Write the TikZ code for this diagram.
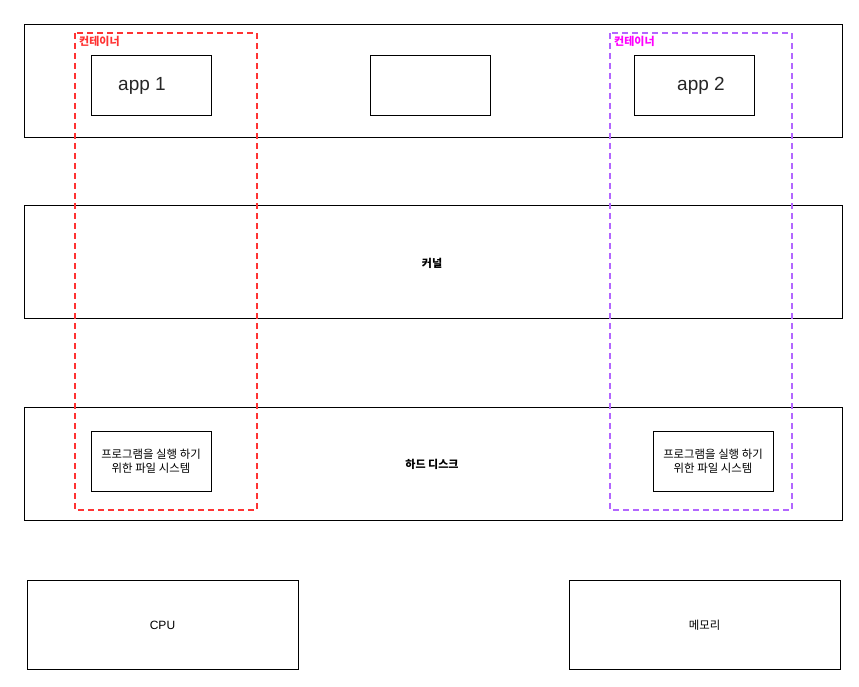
\documentclass[tikz,border=0pt]{standalone}
\usepackage{fontspec}
\setmainfont{Liberation Sans}
\newfontfamily\kr{Noto Sans CJK KR}
\begin{document}
\begin{tikzpicture}[x=1pt,y=-1pt,
  box/.style={draw=black,line width=0.9pt,inner sep=0pt},
  cont/.style={line width=1.6pt,dash pattern=on 6pt off 4pt},
  lbl/.style={font=\kr\fontsize{11.4}{13.5}\selectfont},
  blbl/.style={font=\kr\bfseries\fontsize{11}{13}\selectfont},
  clbl/.style={anchor=north west,inner sep=0pt,font=\kr\bfseries\fontsize{11}{12}\selectfont},
  app/.style={font=\fontsize{19}{22}\selectfont,text=black!85}]
\useasboundingbox (0,0) rectangle (859,687);
\definecolor{redc}{HTML}{FF3333}
\definecolor{purc}{HTML}{B266FF}
\definecolor{magc}{HTML}{FF00FF}
% layers
\draw[box] (24,24) rectangle (842,137);
\node[box,minimum width=120pt,minimum height=60pt] (app1) at (151,85) {};
\node[app] (app1t) at (142,86) {app 1};
\node[box,minimum width=120pt,minimum height=60pt] (mid) at (430,85) {};
\node[box,minimum width=120pt,minimum height=60pt] (app2) at (694,85) {};
\node[app] (app2t) at (701,86) {app 2};
\node[box,minimum width=818pt,minimum height=113pt] (kernel) at (433,261.5) {};
\node[blbl] (kernelt) at (432,263) {커널};
\node[box,minimum width=818pt,minimum height=113pt] (disk) at (433,463.5) {};
\node[blbl] (diskt) at (432,464) {하드 디스크};
\node[box,minimum width=120pt,minimum height=60pt,align=center,lbl] (fs1) at (151,461) {프로그램을 실행 하기\\위한 파일 시스템};
\node[box,minimum width=120pt,minimum height=60pt,align=center,lbl] (fs2) at (713,461) {프로그램을 실행 하기\\위한 파일 시스템};
\node[box,minimum width=271pt,minimum height=89pt] (cpu) at (162.5,624.5) {};
\node[font=\fontsize{12}{14}\selectfont] (cput) at (162.5,625.5) {CPU};
\node[box,minimum width=271pt,minimum height=89pt] (mem) at (704.5,624.5) {};
\node[lbl] (memt) at (704.5,625.5) {메모리};
% containers
\draw[cont,draw=redc] (75,33) rectangle (257,510);
\node[clbl,text=redc] (c1) at (79,36.5) {컨테이너};
\draw[cont,draw=purc] (610,33) rectangle (792,510);
\node[clbl,text=magc] (c2) at (614,36.5) {컨테이너};
\end{tikzpicture}
\end{document}
